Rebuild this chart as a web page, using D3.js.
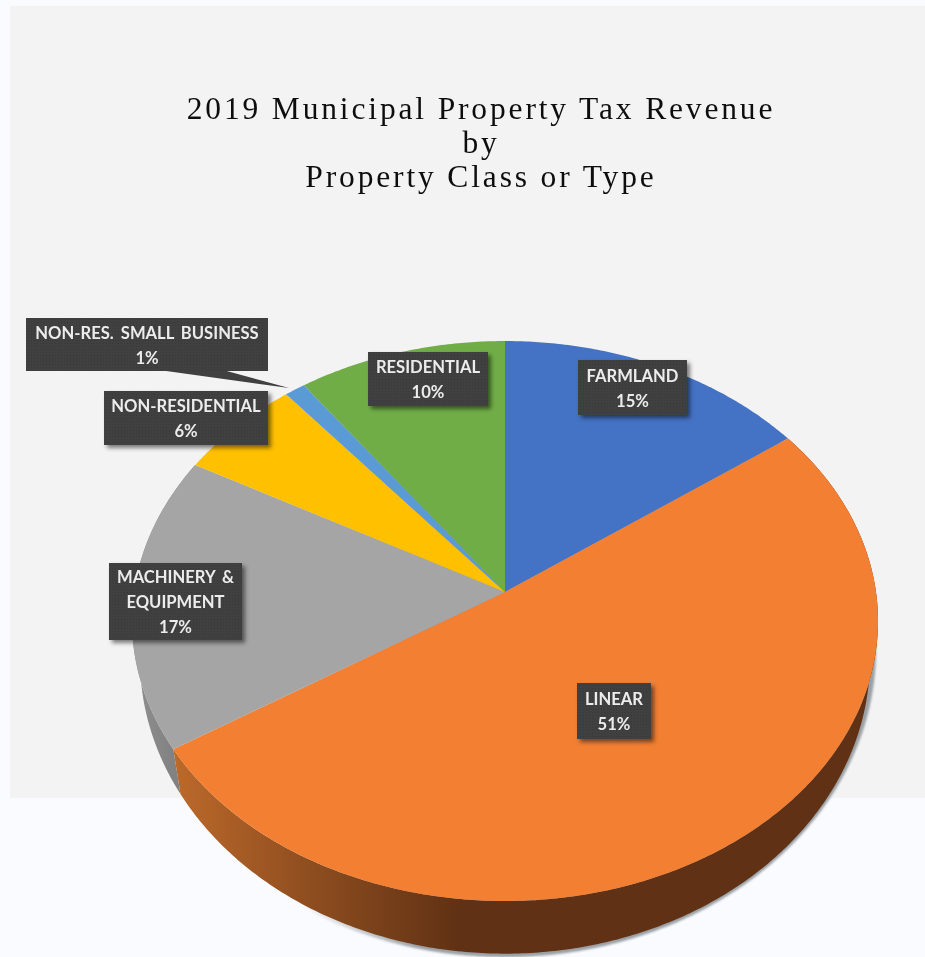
<!DOCTYPE html>
<html>
<head>
<meta charset="utf-8">
<script src="https://cdn.jsdelivr.net/npm/d3@7"></script>
<style>
  html, body { margin: 0; padding: 0; background: #f9fbff; }
  svg { display: block; }
</style>
</head>
<body>
<svg id="chart" width="925" height="957"></svg>
<script>
// data
var categories = ["FARMLAND", "LINEAR", "MACHINERY & EQUIPMENT", "NON-RESIDENTIAL", "NON-RES. SMALL BUSINESS", "RESIDENTIAL"];
var values = [15, 51, 17, 6, 1, 10];
var sliceColors = ["#4472c4", "#f27f32", "#a5a5a5", "#ffc000", "#5b9bd5", "#70ad47"];
var titleLines = ["2019 Municipal Property Tax Revenue", "by", "Property Class or Type"];
var labelLines = [["FARMLAND"], ["LINEAR"], ["MACHINERY &", "EQUIPMENT"], ["NON-RESIDENTIAL"], ["NON-RES. SMALL BUSINESS"], ["RESIDENTIAL"]];

// label boxes, x0 y0 x1 y1
var labelBoxes = [[578, 360, 687, 415], [577, 683, 651, 739], [109, 563, 242, 640], [104, 391, 268, 445], [26, 318, 268, 371], [368, 352, 488, 406]];

var svg = d3.select("#chart");
var defs = svg.append("defs");

//tilted disc, drawn with a small perspective so the front looks bigger
var persp = 0.1037;
var topDisc = { cx: 505, cy: 592, a: 371, b: 277 };
var bottomDisc = { cx: 505, cy: 629, a: 363, b: 291 };
var shadowDisc = { cx: 505, cy: 618, a: 369, b: 304 };

function project(disc, angle) {
  var w = 1 + persp * Math.cos(angle);
  return [disc.cx + disc.a * Math.sin(angle) / w, disc.cy - disc.b * Math.cos(angle) / w];
}

function arcPoints(disc, a0, a1) {
  var n = Math.max(2, Math.ceil(Math.abs(a1 - a0) / 0.01));
  return d3.range(n + 1).map(function(i) { return project(disc, a0 + (a1 - a0) * i / n); });
}

var line = d3.line();
var slices = d3.pie().sort(null).startAngle(0).endAngle(2 * Math.PI)(values);

// gradients
var sideOrange = defs.append("linearGradient").attr("id", "sideOrange")
  .attr("gradientUnits", "userSpaceOnUse").attr("x1", 172).attr("x2", 460).attr("y1", 0).attr("y2", 0);
sideOrange.append("stop").attr("offset", 0).attr("stop-color", "#bd6a2a");
sideOrange.append("stop").attr("offset", 0.45).attr("stop-color", "#914f20");
sideOrange.append("stop").attr("offset", 1).attr("stop-color", "#603114");

var sideGray = defs.append("linearGradient").attr("id", "sideGray")
  .attr("gradientUnits", "userSpaceOnUse").attr("x1", 135).attr("x2", 190).attr("y1", 0).attr("y2", 0);
sideGray.append("stop").attr("offset", 0).attr("stop-color", "#8f8f8f");
sideGray.append("stop").attr("offset", 1).attr("stop-color", "#7c7c7c");

var shadowFade = defs.append("linearGradient").attr("id", "shadowFade")
  .attr("gradientUnits", "userSpaceOnUse").attr("x1", 300).attr("x2", 420).attr("y1", 0).attr("y2", 0);
shadowFade.append("stop").attr("offset", 0).attr("stop-color", "#9aa0a4").attr("stop-opacity", 0);
shadowFade.append("stop").attr("offset", 1).attr("stop-color", "#9aa0a4").attr("stop-opacity", 1);

var dots = defs.append("pattern").attr("id", "dots").attr("patternUnits", "userSpaceOnUse")
  .attr("width", 3).attr("height", 3);
dots.append("rect").attr("width", 3).attr("height", 3).attr("fill", "#404040");
dots.append("rect").attr("width", 1).attr("height", 1).attr("x", 1).attr("y", 1).attr("fill", "#383838");

var boxShadow = defs.append("filter").attr("id", "boxShadow")
  .attr("x", "-20%").attr("y", "-20%").attr("width", "150%").attr("height", "150%");
boxShadow.append("feDropShadow").attr("dx", 3).attr("dy", 3).attr("stdDeviation", 2)
  .attr("flood-color", "#000").attr("flood-opacity", 0.5);

var soft = defs.append("filter").attr("id", "soft")
  .attr("x", "-5%").attr("y", "-20%").attr("width", "110%").attr("height", "140%");
soft.append("feGaussianBlur").attr("stdDeviation", 0.6);

var titleSoft = defs.append("filter").attr("id", "titleSoft")
  .attr("x", "-5%").attr("y", "-20%").attr("width", "110%").attr("height", "140%");
titleSoft.append("feGaussianBlur").attr("stdDeviation", 0.3);

var edge = defs.append("filter").attr("id", "edge")
  .attr("x", "-5%").attr("y", "-5%").attr("width", "110%").attr("height", "110%");
edge.append("feGaussianBlur").attr("stdDeviation", 0.8);

// grey panel behind the chart
svg.append("rect").attr("x", 10).attr("y", 6).attr("width", 915).attr("height", 792).attr("fill", "#f3f3f3");

// title
svg.append("g").selectAll("text").data(titleLines).join("text")
  .attr("x", 481)
  .attr("y", function(d, i) { return 119 + i * 34; })
  .attr("text-anchor", "middle")
  .attr("font-family", "'Liberation Serif', serif")
  .attr("font-size", 31.5)
  .attr("letter-spacing", 2.85)
  .attr("fill", "#111")
  .attr("filter", "url(#titleSoft)")
  .text(function(d) { return d; });

// thin shadow around the far right and bottom of the pie
svg.append("path")
  .attr("d", line(arcPoints(shadowDisc, 0, 2 * Math.PI)) + "Z")
  .attr("fill", "url(#shadowFade)")
  .attr("filter", "url(#edge)");

// side walls, only machinery and linear are seen from this angle
var sideFills = { 1: "url(#sideOrange)", 2: "url(#sideGray)" };
[2, 1].forEach(function(i) {
  var s = slices[i];
  var wall = arcPoints(bottomDisc, s.startAngle, s.endAngle).concat(arcPoints(topDisc, s.endAngle, s.startAngle));
  svg.append("path").attr("d", line(wall) + "Z").attr("fill", sideFills[i]);
});

// top of the pie
svg.append("g").selectAll("path").data(slices).join("path")
  .attr("d", function(d) {
    return line([[topDisc.cx, topDisc.cy]].concat(arcPoints(topDisc, d.startAngle, d.endAngle))) + "Z";
  })
  .attr("fill", function(d, i) { return sliceColors[i]; });

// callout pointer of the small business label
var smallBox = labelBoxes[4];
svg.append("path")
  .attr("d", line([[159, smallBox[3] - 1], [223, smallBox[3] - 1], [289, 388]]) + "Z")
  .attr("fill", "#404040");

// data labels
var labels = svg.append("g").selectAll("g").data(slices).join("g");

labels.append("rect")
  .attr("x", function(d, i) { return labelBoxes[i][0]; })
  .attr("y", function(d, i) { return labelBoxes[i][1]; })
  .attr("width", function(d, i) { return labelBoxes[i][2] - labelBoxes[i][0]; })
  .attr("height", function(d, i) { return labelBoxes[i][3] - labelBoxes[i][1]; })
  .attr("fill", "url(#dots)")
  .attr("filter", function(d, i) { return i == 4 ? null : "url(#boxShadow)"; });

labels.each(function(d, i) {
  var box = labelBoxes[i];
  var rows = labelLines[i].concat([d.value + "%"]);
  var mid = (box[1] + box[3]) / 2;
  d3.select(this).selectAll("text").data(rows).join("text")
    .attr("x", (box[0] + box[2]) / 2)
    .attr("y", function(t, j) { return mid + (j - (rows.length - 1) / 2) * 25 + 6.5; })
    .attr("text-anchor", "middle")
    .attr("font-family", "Lato, sans-serif")
    .attr("font-weight", 700)
    .attr("font-size", 16.6)
    .attr("word-spacing", 3)
    .attr("fill", "#ececec")
    .attr("filter", "url(#soft)")
    .text(function(t) { return t; });
});
</script>
</body>
</html>
